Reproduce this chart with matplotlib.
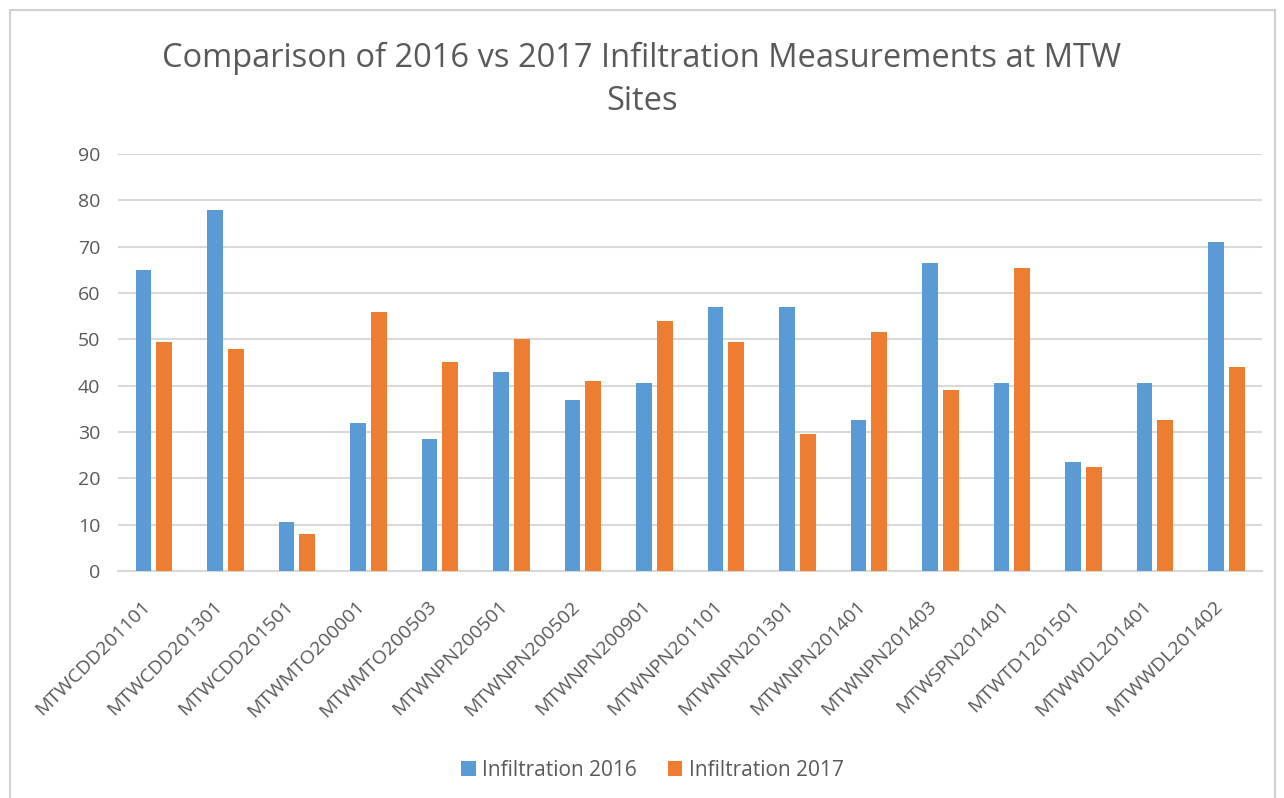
import numpy as np
import matplotlib.pyplot as plt
from matplotlib.patches import Rectangle

sites = ['MTWCDD201101', 'MTWCDD201301', 'MTWCDD201501', 'MTWMTO200001',
         'MTWMTO200503', 'MTWNPN200501', 'MTWNPN200502', 'MTWNPN200901',
         'MTWNPN201101', 'MTWNPN201301', 'MTWNPN201401', 'MTWNPN201403',
         'MTWSPN201401', 'MTWTD1201501', 'MTWWDL201401', 'MTWWDL201402']
infil_2016 = [65, 78, 10.5, 32, 28.5, 43, 37, 40.5, 57, 57, 32.5, 66.5, 40.5, 23.5, 40.5, 71]
infil_2017 = [49.5, 48, 8, 56, 45, 50, 41, 54, 49.5, 29.5, 51.5, 39, 65.5, 22.5, 32.5, 44]

blue = '#5B9BD5'
orange = '#ED7D31'
txt = '#595959'

plt.rcParams['font.family'] = ['Open Sans', 'DejaVu Sans']

fig = plt.figure(figsize=(12.84, 7.98), dpi=100)
ax = fig.add_axes([0.092, 0.2845, 0.891, 0.5225])

# outer chart frame
fig.patches.append(Rectangle((10/1284, -0.01), 1265/1284, 1 - 10/798 + 0.01,
                             transform=fig.transFigure, fill=False,
                             edgecolor='#d0d0d0', lw=1.5))

x = np.arange(len(sites))
w = 0.22
ax.bar(x - 0.145, infil_2016, w, color=blue, label='Infiltration 2016', zorder=3)
ax.bar(x + 0.145, infil_2017, w, color=orange, label='Infiltration 2017', zorder=3)

ax.set_xlim(-0.5, len(sites) - 0.5)
ax.set_ylim(0, 90)
ax.set_yticks(range(0, 91, 10))
ax.yaxis.grid(True, color='#d9d9d9', lw=1.5, zorder=0)
for s in ['top', 'right', 'left']:
    ax.spines[s].set_visible(False)
ax.spines['bottom'].set_color('#d9d9d9')
ax.spines['bottom'].set_linewidth(1.5)
ax.tick_params(axis='both', length=0, colors=txt, labelsize=14)
ax.tick_params(axis='y', pad=13)
ax.tick_params(axis='x', pad=19)

ax.set_xticks(x)
ax.set_xticklabels(sites, rotation=45, ha='right', fontsize=14, color=txt)

fig.text(0.5, 0.9, 'Comparison of 2016 vs 2017 Infiltration Measurements at MTW\nSites',
         ha='center', va='center', fontsize=23.5, color=txt, linespacing=1.4)

fig.legend(loc='center', bbox_to_anchor=(0.508, 0.035), ncol=2, frameon=False,
           fontsize=15, labelcolor=txt, handlelength=0.7, handleheight=0.7,
           handletextpad=0.3, columnspacing=1.5)

fig.savefig('out.png', dpi=100)
